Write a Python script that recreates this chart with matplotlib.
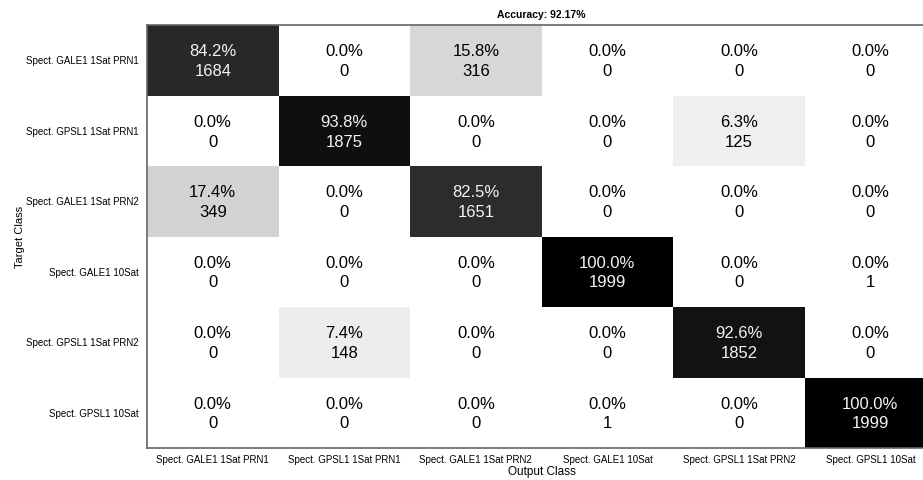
import matplotlib.pyplot as plt
import numpy as np

plt.rcParams['font.family'] = ['Liberation Sans', 'DejaVu Sans']

classes = [
    "Spect. GALE1 1Sat PRN1",
    "Spect. GPSL1 1Sat PRN1",
    "Spect. GALE1 1Sat PRN2",
    "Spect. GALE1 10Sat",
    "Spect. GPSL1 1Sat PRN2",
    "Spect. GPSL1 10Sat",
]

# rows = target class, cols = output class
counts = np.array([
    [1684, 0, 316, 0, 0, 0],
    [0, 1875, 0, 0, 125, 0],
    [349, 0, 1651, 0, 0, 0],
    [0, 0, 0, 1999, 0, 1],
    [0, 148, 0, 0, 1852, 0],
    [0, 0, 0, 1, 0, 1999],
])

percents = np.array([
    [84.2, 0.0, 15.8, 0.0, 0.0, 0.0],
    [0.0, 93.8, 0.0, 0.0, 6.3, 0.0],
    [17.4, 0.0, 82.5, 0.0, 0.0, 0.0],
    [0.0, 0.0, 0.0, 100.0, 0.0, 0.0],
    [0.0, 7.4, 0.0, 0.0, 92.6, 0.0],
    [0.0, 0.0, 0.0, 0.0, 0.0, 100.0],
])

accuracy = 92.17

fig = plt.figure(figsize=(9.23, 4.8), dpi=100)
# axes runs slightly past the right edge of the figure, like the original
ax = fig.add_axes([0.1593, 0.0667, 0.855, 0.881])

n = len(classes)
ax.pcolormesh(np.arange(n + 1), np.arange(n + 1), percents, cmap='gray_r',
              vmin=0, vmax=100)
ax.set_xlim(0, n)
ax.set_ylim(n, 0)

for i in range(n):
    for j in range(n):
        c = '#f2f2f2' if percents[i, j] > 50 else 'black'
        ax.text(j + 0.5, i + 0.52, f"{percents[i, j]:.1f}%\n{counts[i, j]}",
                ha='center', va='center', fontsize=12, color=c, linespacing=1.38)

ax.set_xticks(np.arange(n) + 0.5)
ax.set_xticklabels(classes, fontsize=7)
ax.set_yticks(np.arange(n) + 0.5)
ax.set_yticklabels(classes, fontsize=7)
ax.tick_params(length=0)
ax.tick_params(axis='x', pad=5)
ax.tick_params(axis='y', pad=6)
ax.set_xlabel("Output Class", fontsize=8.5, labelpad=1)
ax.set_ylabel("Target Class", fontsize=8, labelpad=1)
ax.set_title(f"Accuracy: {accuracy:.2f}%", fontsize=7.5, fontweight='bold', pad=5)

for s in ax.spines.values():
    s.set_color('#666666')
    s.set_linewidth(1.2)

fig.savefig('out.png', dpi=100)
